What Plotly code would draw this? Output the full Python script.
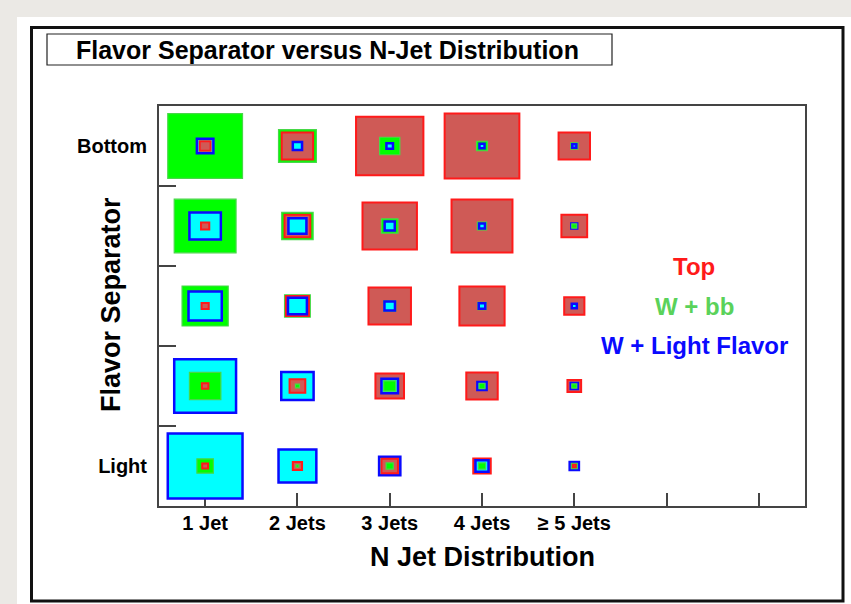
import math
import plotly.graph_objects as go

# ---- data -------------------------------------------------------------
jet_labels = ["1 Jet", "2 Jets", "3 Jets", "4 Jets", "\u2265 5 Jets"]
jet_ticks = [1, 2, 3, 4, 5, 6, 7]
flavor_labels = ["Light", "Bottom"]
flavor_label_pos = [1, 5]
flavor_edges = [1.5, 2.5, 3.5, 4.5]

# events per (flavor-separator bin, N-jet bin); rows go Light -> Bottom
top_counts = [
    [4, 10, 32, 36, 1],
    [5, 29, 96, 116, 22],
    [6, 62, 212, 240, 48],
    [8, 78, 348, 436, 78],
    [14, 116, 533, 656, 116],
]
wbb_counts = [
    [32, 1, 6, 6, 4],
    [116, 2, 17, 4, 3],
    [250, 78, 17, 8, 3],
    [449, 116, 32, 10, 3],
    [656, 168, 48, 14, 6],
]
wlf_counts = [
    [656, 168, 53, 20, 10],
    [449, 123, 32, 10, 6],
    [130, 42, 13, 5, 3],
    [116, 38, 12, 4, 4],
    [32, 10, 5, 3, 2],
]

# content that would fill a whole bin (box area proportional to content)
FULL_BIN = 1000.0

samples = [
    ("Top", top_counts, "#cf5a56", "#ff1a1a", 2.0, "#ff1a1a"),
    ("W + bb", wbb_counts, "#00ff00", "#48d848", 1.2, "#5ad25a"),
    ("W + Light Flavor", wlf_counts, "#00ffff", "#0a0aff", 2.5, "#0a0aff"),
]

# ---- page geometry (pixels) ----------------------------------------------
W, H = 851, 604
L, R, T, B = 159, 805, 106, 506
PW, PH = R - L, B - T


def px(xp):
    return (xp - L) / PW


def py(yp):
    return (B - yp) / PH


FONT = "Liberation Sans, Arial, Helvetica, sans-serif"

fig = go.Figure()

# invisible anchors so both y axes are rendered
fig.add_trace(go.Scatter(x=[1, 7], y=[1, 5], mode="markers",
                         marker=dict(opacity=0), hoverinfo="skip",
                         showlegend=False))
fig.add_trace(go.Scatter(x=[1, 7], y=[1, 5], mode="markers", yaxis="y2",
                         marker=dict(opacity=0), hoverinfo="skip",
                         showlegend=False))

shapes = []

# page decoration: grey surround, white card, black border, title box
shapes.append(dict(type="rect", xref="paper", yref="paper",
                   x0=px(17), x1=px(851), y0=py(17), y1=py(604),
                   fillcolor="white", line=dict(width=0), layer="below"))
shapes.append(dict(type="rect", xref="paper", yref="paper",
                   x0=px(31.5), x1=px(843), y0=py(27.5), y1=py(601),
                   fillcolor="rgba(0,0,0,0)", line=dict(color="#111111", width=3),
                   layer="below"))
shapes.append(dict(type="rect", xref="paper", yref="paper",
                   x0=px(47), x1=px(612), y0=py(34), y1=py(65),
                   fillcolor="white", line=dict(color="#222222", width=1.2),
                   layer="below"))

# box plot: in each cell, the larger boxes go underneath the smaller ones
n_rows = len(top_counts)
n_cols = len(jet_labels)
for r in range(n_rows):
    for c in range(n_cols):
        cell = []
        for name, counts, fill, edge, lw, _ in samples:
            side = math.sqrt(counts[r][c] / FULL_BIN)
            cell.append((side, fill, edge, lw))
        cell.sort(key=lambda t: -t[0])
        xc, yc = c + 1, r + 1
        for side, fill, edge, lw in cell:
            h = side / 2
            shapes.append(dict(type="rect", xref="x", yref="y",
                               x0=xc - h, x1=xc + h, y0=yc - h, y1=yc + h,
                               fillcolor=fill, line=dict(color=edge, width=lw)))

annotations = []
annotations.append(dict(text="Flavor Separator versus N-Jet Distribution",
                        xref="paper", yref="paper", x=px(74), y=py(50),
                        xanchor="left", yanchor="middle", showarrow=False,
                        font=dict(family=FONT, size=25, color="black",
                                  weight="bold")))
annotations.append(dict(text="N Jet Distribution", xref="paper", yref="paper",
                        x=px(482), y=py(557), xanchor="center",
                        yanchor="middle", showarrow=False,
                        font=dict(family=FONT, size=27, color="black",
                                  weight="bold")))
annotations.append(dict(text="Flavor Separator", xref="paper", yref="paper",
                        x=px(111), y=py(305), xanchor="center",
                        yanchor="middle", textangle=-90, showarrow=False,
                        font=dict(family=FONT, size=27, color="black",
                                  weight="bold")))

legend_y = [266, 306, 345]
for (name, _, _, _, _, tcol), yy in zip(samples, legend_y):
    annotations.append(dict(text=name, xref="paper", yref="paper",
                            x=px(694), y=py(yy), xanchor="center",
                            yanchor="middle", showarrow=False,
                            font=dict(family=FONT, size=24, color=tcol,
                                      weight="bold")))

tick_font = dict(family=FONT, size=20, color="black", weight="bold")

fig.update_layout(
    width=W, height=H,
    margin=dict(l=L, r=W - R, t=T, b=H - B, autoexpand=False),
    paper_bgcolor="#ebe9e5",
    plot_bgcolor="white",
    showlegend=False,
    shapes=shapes,
    annotations=annotations,
    xaxis=dict(range=[0.5, 7.5], tickvals=jet_ticks,
               ticktext=jet_labels + [""] * (len(jet_ticks) - len(jet_labels)),
               ticks="inside", ticklen=13, tickwidth=2, tickcolor="#444444",
               ticklabelstandoff=-2,
               showline=True, linecolor="#444444", linewidth=2, mirror=True,
               showgrid=False, zeroline=False, tickfont=tick_font,
               fixedrange=True),
    yaxis=dict(range=[0.5, 5.5], tickvals=flavor_label_pos,
               ticktext=flavor_labels, ticks="", ticklabelstandoff=6,
               showline=True, linecolor="#444444", linewidth=2, mirror=True,
               showgrid=False, zeroline=False, tickfont=tick_font,
               fixedrange=True),
    yaxis2=dict(range=[0.5, 5.5], overlaying="y", side="left",
                tickvals=flavor_edges, ticks="inside", ticklen=17,
                tickwidth=2, tickcolor="#444444", showticklabels=False,
                showline=False, showgrid=False, zeroline=False,
                fixedrange=True),
)

fig.write_html("out.html")
